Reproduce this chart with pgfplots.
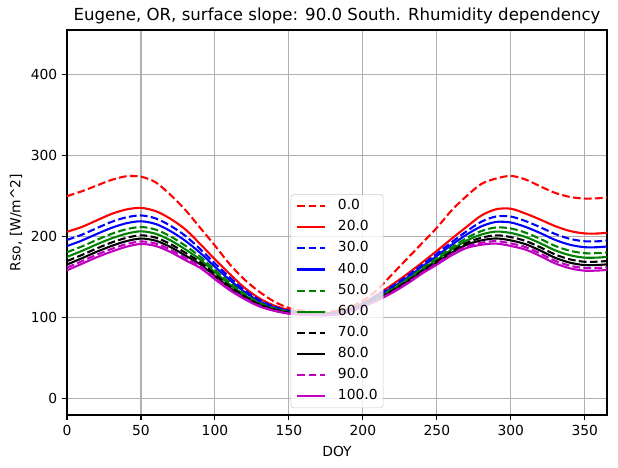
\documentclass[border=0pt]{standalone}
\usepackage{pgfplots}
\pgfplotsset{compat=1.18}
\usepackage{pgfplotstable}
\usepackage{fontspec}
\setmainfont{DejaVu Sans}
\definecolor{mred}{rgb}{1,0,0}
\definecolor{mblue}{rgb}{0,0,1}
\definecolor{mgreen}{rgb}{0,0.5,0}
\definecolor{mmag}{rgb}{0.75,0,0.75}
\definecolor{gridgray}{HTML}{B0B0B0}
\definecolor{leggray}{HTML}{CCCCCC}
\tikzset{mdash/.style={dash pattern=on 5.55bp off 2.4bp}}

\pgfplotstableread{
d   D     R     C30   C40   C50   C60   C70   C80   C90   M
0   250   206   196.0 188.4 180.8 175.1 169.9 165.6 161.8 158.5
10  256   212   202.4 195.2 187.9 182.4 177.4 173.3 169.7 166.5
20  263   220   210.4 203.2 195.9 190.4 185.4 181.3 177.7 174.5
30  270   228   218.2 210.8 203.4 197.8 192.7 188.5 184.8 181.5
40  274.5 233.5 223.8 216.5 209.1 203.6 198.5 194.4 190.7 187.5
50  274   235.5 226.2 219.0 211.9 206.6 201.7 197.7 194.1 191
60  267   231.5 222.5 215.6 208.7 203.6 198.8 195.0 191.5 188.5
70  251.5 222   213.4 206.8 200.3 195.4 190.8 187.2 183.9 181
80  233   209   201.0 194.9 188.9 184.3 180.1 176.7 173.7 171
90  211   191   184.8 180.1 175.4 171.8 168.6 165.9 163.6 161.5
100 189   172   166.9 162.9 159.0 156.1 153.4 151.2 149.2 147.5
110 166   154   149.8 146.6 143.4 141.0 138.8 137.0 135.4 134
120 147   137   134.1 131.8 129.6 127.9 126.4 125.1 124.0 123
130 132   124   121.9 120.3 118.7 117.5 116.4 115.5 114.7 114
140 120   115   113.6 112.6 111.6 110.8 110.1 109.5 109.0 108.5
150 112   109.5 108.6 107.8 107.1 106.6 106.1 105.7 105.3 105
160 108.5 106.5 105.9 105.4 104.9 104.6 104.2 104.0 103.7 103.5
170 107   105.5 105.0 104.6 104.2 103.9 103.6 103.4 103.2 103
180 108   106   105.5 105.1 104.7 104.4 104.1 103.9 103.7 103.5
190 112   110   109.4 108.9 108.4 108.1 107.7 107.5 107.2 107
200 121   118   117.1 116.3 115.6 115.1 114.6 114.2 113.8 113.5
210 135   129   127.4 126.2 125.0 124.1 123.3 122.6 122.0 121.5
220 154   141   138.9 137.3 135.7 134.5 133.4 132.5 131.7 131
230 173   154   151.5 149.6 147.6 146.2 144.9 143.8 142.8 142
240 192   168   165.2 163.0 160.8 159.2 157.7 156.5 155.4 154.5
250 211   182.5 178.9 176.2 173.5 171.5 169.6 168.1 166.7 165.5
260 232.5 197.5 193.2 189.9 186.6 184.2 181.9 180.1 178.4 177
270 250   212   206.5 202.4 198.2 195.1 192.2 189.9 187.8 186
280 265   226   218.4 212.7 206.9 202.6 198.6 195.4 192.5 190
290 271.7 233.8 224.9 218.2 211.4 206.3 201.7 197.8 194.5 191.5
300 275   234.5 224.8 217.5 210.1 204.6 199.5 195.4 191.7 188.5
310 270.5 228.5 219.2 212.0 204.9 199.6 194.7 190.7 187.1 184
320 262   221   211.6 204.4 197.2 191.8 186.8 182.8 179.2 176
330 254   213   203.3 196.0 188.6 183.1 178.0 173.9 170.2 167
340 249   207   197.3 190.0 182.6 177.1 172.0 167.9 164.2 161
350 247   204   194.3 187.0 179.6 174.1 169.0 164.9 161.2 158
360 247.5 204   194.4 187.1 179.8 174.3 169.3 165.2 161.5 158.3
365 248.5 205   195.3 188.0 180.6 175.1 170.0 165.9 162.2 159
}\rso

\begin{document}
\begin{tikzpicture}
\begin{axis}[
  scale only axis, width=388.8bp, height=277.2bp,
  xmin=0, xmax=365, ymin=-20, ymax=455,
  xtick={0,50,...,350}, ytick={0,100,...,400},
  xtick pos=bottom, ytick pos=left,
  grid=major, major grid style={gridgray, line width=0.8bp},
  axis line style={line width=0.8bp},
  tick style={black, line width=0.8bp}, tick align=outside, major tick length=3.5bp,
  tick label style={font=\fontsize{10}{12}\selectfont},
  /pgf/number format/assume math mode=true,
  title={Eugene, OR, surface slope: 90.0 South. Rhumidity dependency},
  every axis title/.style={font=\fontsize{12}{14}\selectfont, at={(axis description cs:0.5,1)}, anchor=south, inner sep=0pt, yshift=4.3bp},
  xlabel={DOY}, ylabel={Rso, [W/m\textasciicircum 2]},
  label style={font=\fontsize{10}{12}\selectfont},
  xlabel style={at={(axis description cs:0.5,-0.0935)}, anchor=center},
  ylabel style={at={(axis description cs:-0.0944,0.5)}, anchor=center},
  legend style={at={(axis description cs:0.5,0.018)}, anchor=south,
    fill=white, fill opacity=0.8, draw opacity=1, text opacity=1, draw=leggray,
    rounded corners=2bp, font=\fontsize{10}{12}\selectfont,
    inner xsep=4bp, inner ysep=3.6bp, row sep=5.7bp, column sep=8.4bp,
    nodes={inner sep=0pt, text height=7.3bp, text depth=2.2bp}},
  legend cell align=left,
  legend image code/.code={\draw[#1] (0bp,0bp) -- (20bp,0bp);},
  no markers,
  every axis plot/.append style={line width=1.5bp, smooth},
]
\addplot[mred, mdash] table[x=d, y=D] {\rso};
\addlegendentry{0.0}
\addplot[mred] table[x=d, y=R] {\rso};
\addlegendentry{20.0}
\addplot[mblue, mdash] table[x=d, y=C30] {\rso};
\addlegendentry{30.0}
\addplot[mblue] table[x=d, y=C40] {\rso};
\addlegendentry{40.0}
\addplot[mgreen, mdash] table[x=d, y=C50] {\rso};
\addlegendentry{50.0}
\addplot[mgreen] table[x=d, y=C60] {\rso};
\addlegendentry{60.0}
\addplot[black, mdash] table[x=d, y=C70] {\rso};
\addlegendentry{70.0}
\addplot[black] table[x=d, y=C80] {\rso};
\addlegendentry{80.0}
\addplot[mmag, mdash] table[x=d, y=C90] {\rso};
\addlegendentry{90.0}
\addplot[mmag] table[x=d, y=M] {\rso};
\addlegendentry{100.0}
\end{axis}
\pgfresetboundingbox
\path ([xshift=-48.24bp,yshift=-38.16bp]current axis.south west) rectangle ([xshift=7.92bp,yshift=21.6bp]current axis.north east);
\end{tikzpicture}
\end{document}
